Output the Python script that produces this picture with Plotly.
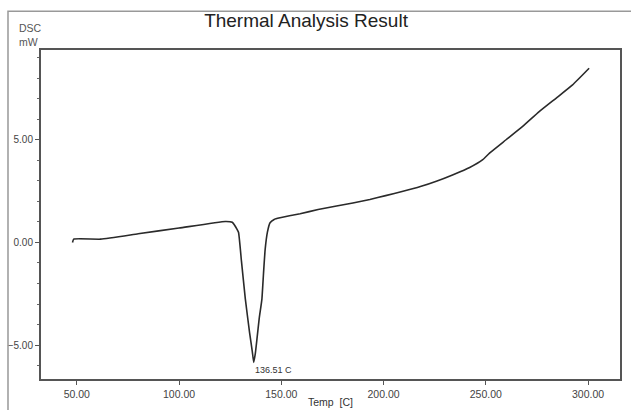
import plotly.graph_objects as go

temp = [47.9, 48.5, 61.7, 80, 100, 122.6, 126, 128.3, 129.1, 130.5, 132.4, 134.5,
        135.8, 136.51, 137.3, 138.1, 139.2, 140.5, 141.3, 142.1, 143.2, 144.5,
        146.5, 149.4, 154, 159.2, 168, 177, 185, 193.3, 201, 209.5, 218, 225.8,
        234, 242.1, 248.5, 251.8, 259.9, 268, 276.1, 284.3, 292.4, 300.5]
dsc = [0.0, 0.16, 0.16, 0.42, 0.70, 1.02, 0.98, 0.65, 0.48, -0.9, -2.75, -4.4,
       -5.3, -5.84, -5.4, -4.7, -3.7, -2.77, -1.5, -0.34, 0.5, 0.96,
       1.12, 1.2, 1.3, 1.4, 1.6, 1.77, 1.92, 2.09, 2.28, 2.49, 2.72, 2.98,
       3.3, 3.65, 4.03, 4.35, 5.0, 5.65, 6.37, 7.02, 7.67, 8.48]
x_ticks = [50, 100, 150, 200, 250, 300]
y_ticks = [-5, 0, 5]
peak_temp = 136.51
peak_dsc = -5.84

font = "Liberation Sans, Arial, sans-serif"

fig = go.Figure()
fig.add_trace(go.Scatter(x=temp, y=dsc, mode="lines",
                         line=dict(color="#2a2a2a", width=1.6, shape="spline",
                                   smoothing=0.4),
                         showlegend=False, hoverinfo="skip"))

fig.add_annotation(x=peak_temp, y=peak_dsc, text=f"{peak_temp:.2f} C",
                   showarrow=False, xanchor="left", yanchor="top",
                   xshift=-1, yshift=-1,
                   font=dict(family=font, size=9, color="#333"))

fig.update_layout(
    width=631, height=410,
    margin=dict(l=41, r=11, t=50, b=31),
    paper_bgcolor="white", plot_bgcolor="white",
    title=dict(text="Thermal Analysis Result", x=0.485, xanchor="center",
               y=0.95, yanchor="middle",
               font=dict(family=font, size=19, color="#222")),
    font=dict(family=font),
    xaxis=dict(range=[32.5, 315.6], tickvals=x_ticks, tickformat=".2f",
               automargin=False,
               showgrid=False, zeroline=False, showline=True, mirror=True,
               linecolor="#555", linewidth=2, ticks="outside", ticklen=4,
               tickcolor="#555", tickfont=dict(size=10.5, color="#444"),
               title=dict(text="Temp  [C]", standoff=0,
                          font=dict(size=10.5, color="#333"))),
    yaxis=dict(range=[-6.65, 9.37], tickvals=y_ticks, tickformat=".2f",
               automargin=False,
               showgrid=False, zeroline=False, showline=True, mirror=True,
               linecolor="#555", linewidth=2, ticks="outside", ticklen=4,
               tickcolor="#555", tickfont=dict(size=10, color="#444"),
               minor=dict(tickmode="linear", tick0=0, dtick=1, ticks="outside",
                          ticklen=2, tickcolor="#666", showgrid=False)),
)

fig.add_annotation(xref="paper", yref="paper", x=-0.042, y=1.045,
                   text="DSC<br>mW", showarrow=False, align="left",
                   xanchor="left", yanchor="middle",
                   font=dict(family=font, size=10.5, color="#555"))

fig.add_shape(type="rect", xref="paper", yref="paper",
              x0=-0.057, x1=1.05, y0=-0.3, y1=1.118,
              line=dict(color="#999", width=1.5), fillcolor="rgba(0,0,0,0)",
              layer="above")

fig.write_html("out.html",
               config={"displayModeBar": False},
               post_script="document.body.style.margin='0';"
                           "document.body.style.overflow='hidden';")
